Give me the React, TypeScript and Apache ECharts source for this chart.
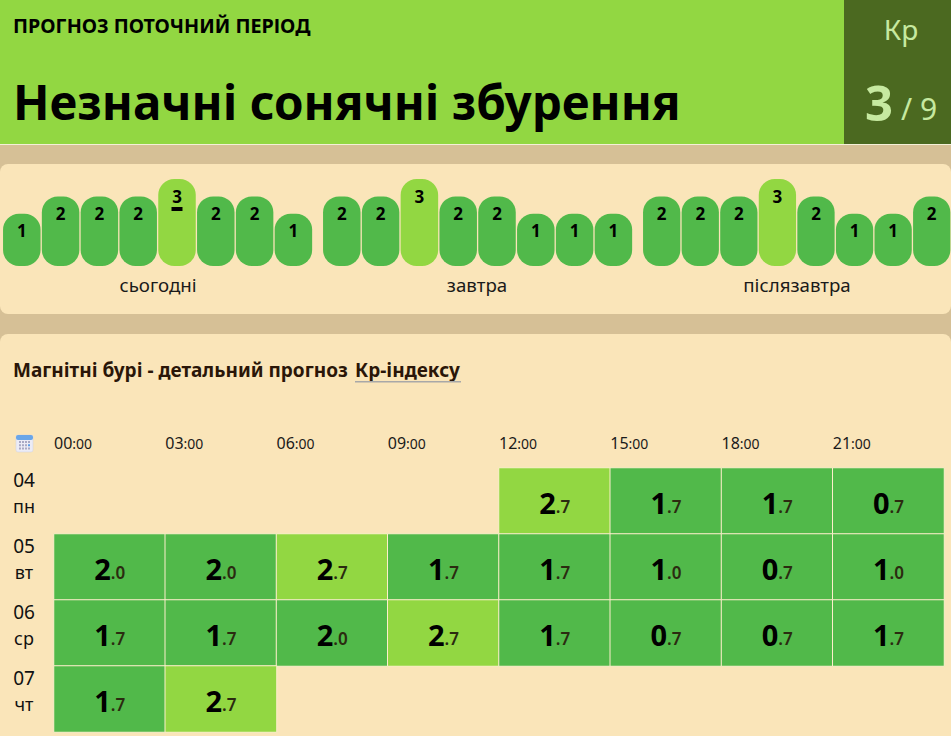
import React, { useEffect, useRef } from "react";
import * as echarts from "echarts";

const FONT = "'Noto Sans', 'Open Sans', sans-serif";
const GREEN = "#51b94a";
const LIME = "#92d742";
const CREAM = "#fae5b9";
const TAN = "#d6c096";

const forecastTitle = "ПРОГНОЗ ПОТОЧНИЙ ПЕРІОД";
const headline = "Незначні сонячні збурення";
const indexName = "Кр";
const indexCurrent = "3";
const indexScale = "/ 9";
const sectionTitleStart = "Магнітні бурі - детальний прогноз";
const sectionTitleLink = "Кр-індексу";

const dayNames = ["сьогодні", "завтра", "післязавтра"];
const todayValues = [1, 2, 2, 2, 3, 2, 2, 1];
const tomorrowValues = [2, 2, 3, 2, 2, 1, 1, 1];
const afterValues = [2, 2, 2, 3, 2, 1, 1, 2];
const currentSlot = 4;

const hours = ["00:00", "03:00", "06:00", "09:00", "12:00", "15:00", "18:00", "21:00"];
const dayNumbers = ["04", "05", "06", "07"];
const weekDays = ["пн", "вт", "ср", "чт"];
const row04: (number | null)[] = [null, null, null, null, 2.7, 1.7, 1.7, 0.7];
const row05: (number | null)[] = [2.0, 2.0, 2.7, 1.7, 1.7, 1.0, 0.7, 1.0];
const row06: (number | null)[] = [1.7, 1.7, 2.0, 2.7, 1.7, 0.7, 0.7, 1.7];
const row07: (number | null)[] = [1.7, 2.7, null, null, null, null, null, null];

const GROUP_LEFT = [2.4, 322.4, 642.4];

function barsSeries(values: number[], index: number, markCurrent: boolean) {
  return {
    type: "custom",
    xAxisIndex: index,
    yAxisIndex: index,
    clip: false,
    data: values.map((v, i) => [i, v]),
    renderItem: (_p: any, api: any) => {
      const i = api.value(0);
      const v = api.value(1);
      const top = api.coord([i, v]);
      const base = api.coord([i, -2]);
      const w = api.size([1, 0])[0] - 1.3;
      const children: any[] = [
        {
          type: "rect",
          shape: { x: top[0] - w / 2, y: top[1], width: w, height: base[1] - top[1], r: 16 },
          style: { fill: v >= 3 ? LIME : GREEN },
        },
        {
          type: "text",
          x: top[0],
          y: top[1] + 17,
          style: {
            text: String(v),
            align: "center",
            verticalAlign: "middle",
            fontSize: 17,
            fontWeight: 700,
            fontFamily: FONT,
            fill: "#000",
          },
        },
      ];
      if (markCurrent && i === currentSlot) {
        children.push({
          type: "rect",
          shape: { x: top[0] - 5.5, y: top[1] + 28, width: 11, height: 4 },
          style: { fill: "#000" },
        });
      }
      return { type: "group", children };
    },
  };
}

function calendarIcon() {
  const dots: any[] = [];
  for (let r = 0; r < 3; r++) {
    for (let c = 0; c < 4; c++) {
      dots.push({
        type: "rect",
        shape: { x: 19 + c * 3, y: 441 + r * 3.2, width: 2, height: 2 },
        style: { fill: r === 1 && c === 3 ? "#5a9be6" : "#a9a9c4" },
      });
    }
  }
  return {
    type: "group",
    children: [
      { type: "rect", shape: { x: 16, y: 435, width: 17, height: 17, r: 2 }, style: { fill: "#ececf6", stroke: "#cfd0e2", lineWidth: 0.5 } },
      { type: "rect", shape: { x: 16, y: 435, width: 17, height: 5, r: 2 }, style: { fill: "#6aa6e8" } },
      ...dots,
    ],
  };
}

function text(x: number, y: number, value: string, size: number, weight: number, fill: string, align = "left") {
  return {
    type: "text",
    x,
    y,
    style: { text: value, fontSize: size, fontWeight: weight, fontFamily: FONT, fill, align, verticalAlign: "middle" },
  };
}

export default function App() {
  const ref = useRef<HTMLDivElement>(null);

  useEffect(() => {
    document.body.style.margin = "0";
    const chart = echarts.init(ref.current!, null, { renderer: "svg" });

    const rows = [row04, row05, row06, row07];
    const heatData: number[][] = [];
    rows.forEach((row, r) =>
      row.forEach((v, c) => {
        if (v !== null) heatData.push([c, r, v]);
      })
    );

    const groups = [todayValues, tomorrowValues, afterValues];
    const grids: any[] = GROUP_LEFT.map((left) => ({ left, top: 179, width: 310.4, height: 87 }));
    grids.push({ left: 54, top: 468, width: 890, height: 264 });

    const xAxis: any[] = groups.map((g, i) => ({
      type: "category",
      gridIndex: i,
      data: g.map((_, k) => String(k)),
      show: false,
    }));
    const yAxis: any[] = groups.map((_, i) => ({
      type: "value",
      gridIndex: i,
      min: -2,
      max: 3,
      show: false,
    }));

    xAxis.push({ type: "category", gridIndex: 3, data: hours, position: "top", show: false });
    xAxis.push({
      type: "category",
      gridIndex: 3,
      position: "top",
      boundaryGap: false,
      offset: 17,
      data: [...hours, ""],
      axisLine: { show: false },
      axisTick: { show: false },
      axisLabel: {
        show: true,
        interval: 0,
        align: "left",
        margin: 0,
        fontFamily: FONT,
        fontSize: 15,
        color: "#1a1a1a",
        formatter: (v: string) => (v ? `{h|${v.slice(0, 2)}}{m|${v.slice(2)}}` : ""),
        rich: {
          h: { fontFamily: FONT, fontSize: 16, color: "#1a1a1a" },
          m: { fontFamily: FONT, fontSize: 14, color: "#1a1a1a", padding: [1, 0, 0, 0] },
        },
      },
    });
    yAxis.push({
      type: "category",
      gridIndex: 3,
      inverse: true,
      data: dayNumbers,
      axisLine: { show: false },
      axisTick: { show: false },
      axisLabel: {
        interval: 0,
        align: "center",
        margin: 30,
        padding: [0, 0, 16, 0],
        formatter: (v: string, i: number) => `{d|${v}}\n{w|${weekDays[i]}}`,
        rich: {
          d: { fontFamily: FONT, fontSize: 19, color: "#111", lineHeight: 26, align: "center" },
          w: { fontFamily: FONT, fontSize: 18, color: "#111", lineHeight: 26, align: "center" },
        },
      },
    });

    chart.setOption({
      animation: false,
      backgroundColor: TAN,
      graphic: [
        { type: "rect", shape: { x: 0, y: 0, width: 844, height: 144 }, style: { fill: LIME } },
        { type: "rect", shape: { x: 844, y: 0, width: 107, height: 144 }, style: { fill: "#4b6920" } },
        { type: "rect", shape: { x: 0, y: 144, width: 951, height: 1 }, style: { fill: "#f4f0d8" } },
        { type: "rect", shape: { x: 0, y: 164, width: 951, height: 150, r: 8 }, style: { fill: CREAM } },
        { type: "rect", shape: { x: 0, y: 334, width: 951, height: 420, r: 8 }, style: { fill: CREAM } },
        text(13, 25, forecastTitle, 19.7, 700, "#000"),
        text(13, 101, headline, 47.5, 700, "#000"),
        text(901, 29, indexName, 28, 400, "#c6e9a0", "center"),
        text(865, 102, indexCurrent, 49, 700, "#c6e9a0"),
        text(901, 108, indexScale, 30, 400, "#c6e9a0"),
        text(158, 284, dayNames[0], 18.7, 400, "#1a1a1a", "center"),
        text(477, 284, dayNames[1], 18.7, 400, "#1a1a1a", "center"),
        text(797, 284, dayNames[2], 18.7, 400, "#1a1a1a", "center"),
        text(13, 370, sectionTitleStart, 19, 700, "#2a1608"),
        text(355, 370, sectionTitleLink, 19, 700, "#2a1608"),
        { type: "rect", shape: { x: 355, y: 381, width: 106, height: 1.5 }, style: { fill: "#a8a8a8" } },
        calendarIcon(),
      ],
      grid: grids,
      xAxis,
      yAxis,
      visualMap: {
        show: false,
        type: "piecewise",
        seriesIndex: 3,
        dimension: 2,
        pieces: [
          { lt: 2.5, color: GREEN },
          { gte: 2.5, color: LIME },
        ],
      },
      series: [
        barsSeries(todayValues, 0, true),
        barsSeries(tomorrowValues, 1, false),
        barsSeries(afterValues, 2, false),
        {
          type: "heatmap",
          xAxisIndex: 3,
          yAxisIndex: 3,
          data: heatData,
          itemStyle: { borderColor: "#fdeecb", borderWidth: 1 },
          label: {
            show: true,
            offset: [0, 1],
            formatter: (p: any) => {
              const [a, b] = Number(p.value[2]).toFixed(1).split(".");
              return `{a|${a}}{b|.${b}}`;
            },
            rich: {
              a: { fontFamily: FONT, fontSize: 29, fontWeight: 700, color: "#000" },
              b: { fontFamily: FONT, fontSize: 17, fontWeight: 600, color: "#2b2b10", padding: [9, 0, 0, 0] },
            },
          },
        },
      ],
    });

    return () => chart.dispose();
  }, []);

  return <div ref={ref} style={{ width: 951, height: 736 }} />;
}
